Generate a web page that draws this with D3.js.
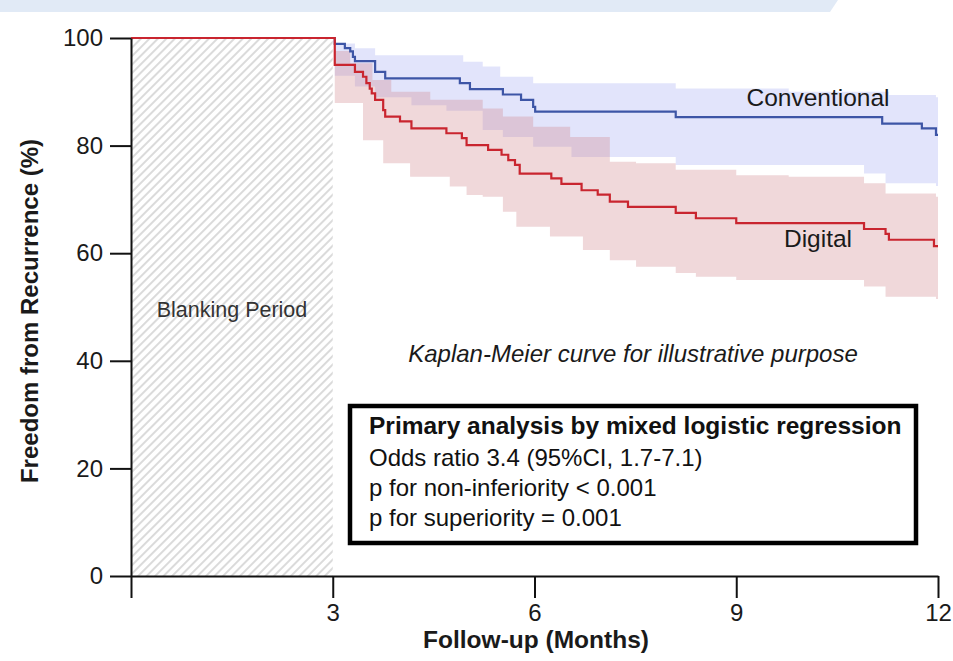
<!DOCTYPE html>
<html>
<head>
<meta charset="utf-8">
<script src="https://cdn.jsdelivr.net/npm/d3@7"></script>
<style>
  body { margin: 0; background: #fff; }
  svg { display: block; font-family: "Liberation Sans", Arial, sans-serif; }
</style>
</head>
<body>
<div id="chart"></div>
<script>
// ---- data ----
// step curves: [month, freedom from recurrence %]
var conventional = [[0,100],[3.03,98.9],[3.18,98.1],[3.26,97.5],[3.30,96.5],[3.33,95.7],[3.63,93.7],[3.78,92.5],
  [4.89,91.6],[5.04,90.5],[5.53,89.5],[5.80,88.5],[5.98,87.2],[6.01,86.3],[8.10,85.3],[11.17,84.1],[11.76,83.2],
  [11.97,82.0],[12,82.0]];

var digital = [[0,100],[3.03,95.0],[3.33,93.7],[3.45,92.8],[3.50,91.6],[3.55,90.6],[3.58,89.7],[3.63,88.5],
  [3.75,86.6],[3.78,85.4],[4.00,84.5],[4.17,83.2],[4.69,82.3],[4.92,81.4],[4.99,80.1],[5.31,79.2],[5.51,78.3],
  [5.61,77.3],[5.71,76.4],[5.78,74.8],[6.25,73.9],[6.40,72.9],[6.70,71.7],[6.94,70.9],[7.12,69.6],[7.39,68.6],
  [8.10,67.5],[8.40,66.5],[9.00,65.6],[10.90,64.5],[11.22,63.6],[11.27,62.5],[11.94,61.3],[12,61.3]];

// confidence bands: [month, lower, upper]
var conventionalCI = [[3.03,93.0,99.0],[3.33,91.0,98.1],[3.63,89.0,96.8],[4.17,87.5,96.8],[4.69,86.5,96.8],
  [4.94,86.5,95.6],[5.23,82.9,94.7],[5.49,82.9,92.8],[5.53,81.6,92.8],[5.98,79.8,91.6],[6.55,77.9,91.6],
  [8.10,76.4,90.6],[9.78,76.4,90.0],[10.90,74.8,90.0],[11.22,73.0,90.0],[11.27,73.0,89.4],[11.97,72.5,89.0],
  [12,72.5,89.0]];

var digitalCI = [[3.03,87.9,97.6],[3.26,87.9,95.3],[3.45,81.0,95.3],[3.59,81.0,92.2],[3.75,76.7,92.2],
  [3.87,76.7,90.0],[4.15,74.2,90.0],[4.45,74.2,88.5],[4.74,72.4,88.5],[4.99,70.8,88.5],[5.23,70.5,86.9],
  [5.53,67.7,85.4],[5.73,64.9,85.4],[5.98,64.9,83.5],[6.23,63.1,83.5],[6.53,63.1,81.6],[6.72,60.6,81.6],
  [7.12,58.7,77.0],[7.51,57.5,76.7],[8.10,56.3,75.5],[8.40,55.6,75.5],[9.00,55.0,74.5],[9.78,55.0,74.2],
  [10.90,53.8,73.0],[11.22,51.9,71.1],[11.97,51.5,70.5],[12,51.5,70.5]];

var xTicks = [0, 3, 6, 9, 12];
var yTicks = [0, 20, 40, 60, 80, 100];
var blankingEnd = 3;

var boxLines = [
  "Odds ratio 3.4 (95%CI, 1.7-7.1)",
  "p for non-inferiority < 0.001",
  "p for superiority = 0.001"
];

// ---- drawing ----
var width = 953, height = 661;

var svg = d3.select("#chart").append("svg")
  .attr("width", width)
  .attr("height", height);

// light banner strip at the very top
svg.append("polygon")
  .attr("points", "0,0 838,0 830,12 0,12")
  .attr("fill", "#e1eaf6");

var x = d3.scaleLinear().domain([0, 12]).range([131, 938]);
var y = d3.scaleLinear().domain([0, 100]).range([576, 38]);

// hatch for the blanking period
var defs = svg.append("defs");
defs.append("pattern")
  .attr("id", "hatch")
  .attr("patternUnits", "userSpaceOnUse")
  .attr("width", 6)
  .attr("height", 6)
  .attr("patternTransform", "rotate(45)")
  .append("line")
  .attr("x1", 1).attr("y1", 0)
  .attr("x2", 1).attr("y2", 6)
  .attr("stroke", "#c2c2c2")
  .attr("stroke-width", 1.2);

svg.append("rect")
  .attr("x", x(0))
  .attr("y", y(100))
  .attr("width", x(blankingEnd) - x(0))
  .attr("height", y(0) - y(100))
  .attr("fill", "url(#hatch)");

// bands
var band = d3.area()
  .curve(d3.curveStepAfter)
  .x(function(d) { return x(d[0]); })
  .y0(function(d) { return y(d[1]); })
  .y1(function(d) { return y(d[2]); });

svg.append("path")
  .datum(conventionalCI)
  .attr("d", band)
  .attr("fill", "rgb(150,158,240)")
  .attr("fill-opacity", 0.28);

svg.append("path")
  .datum(digitalCI)
  .attr("d", band)
  .attr("fill", "rgb(205,125,132)")
  .attr("fill-opacity", 0.3);

// KM lines
var km = d3.line()
  .curve(d3.curveStepAfter)
  .x(function(d) { return x(d[0]); })
  .y(function(d) { return y(d[1]); });

svg.append("path")
  .datum(conventional)
  .attr("d", km)
  .attr("fill", "none")
  .attr("stroke", "#3d55a6")
  .attr("stroke-width", 2.2);

svg.append("path")
  .datum(digital)
  .attr("d", km)
  .attr("fill", "none")
  .attr("stroke", "#c9252f")
  .attr("stroke-width", 2.2);

// axes
var yAxis = svg.append("g")
  .attr("transform", "translate(" + x(0) + ",0)")
  .call(d3.axisLeft(y).tickValues(yTicks).tickSize(21).tickSizeOuter(0).tickPadding(7));

var xAxis = svg.append("g")
  .attr("transform", "translate(0," + y(0) + ")")
  .call(d3.axisBottom(x).tickValues(xTicks).tickSize(22).tickSizeOuter(0).tickPadding(6)
    .tickFormat(function(d) { return d === 0 ? "" : d; }));

[yAxis, xAxis].forEach(function(g) {
  g.selectAll("path, line").attr("stroke", "#111").attr("stroke-width", 2);
  g.selectAll("text")
    .attr("fill", "#1a1a1a")
    .style("font-size", "24px")
    .style("font-family", "'Liberation Sans', Arial, sans-serif");
});
xAxis.selectAll("text").attr("dy", "0.71em");

// axis titles
svg.append("text")
  .attr("transform", "translate(38,311) rotate(-90)")
  .attr("text-anchor", "middle")
  .style("font-size", "24px")
  .style("font-weight", "bold")
  .attr("fill", "#1a1a1a")
  .text("Freedom from Recurrence (%)");

svg.append("text")
  .attr("x", 536)
  .attr("y", 648)
  .attr("text-anchor", "middle")
  .style("font-size", "24.5px")
  .style("font-weight", "bold")
  .attr("fill", "#1a1a1a")
  .text("Follow-up (Months)");

// labels
svg.append("text")
  .attr("x", 232).attr("y", 317)
  .attr("text-anchor", "middle")
  .style("font-size", "21.5px")
  .attr("fill", "#333")
  .text("Blanking Period");

svg.append("text")
  .attr("x", 818).attr("y", 106)
  .attr("text-anchor", "middle")
  .style("font-size", "24.5px")
  .attr("fill", "#1a1a1a")
  .text("Conventional");

svg.append("text")
  .attr("x", 818).attr("y", 247)
  .attr("text-anchor", "middle")
  .style("font-size", "24.5px")
  .attr("fill", "#1a1a1a")
  .text("Digital");

svg.append("text")
  .attr("x", 633).attr("y", 362)
  .attr("text-anchor", "middle")
  .style("font-size", "24px")
  .style("font-style", "italic")
  .attr("fill", "#1a1a1a")
  .text("Kaplan-Meier curve for illustrative purpose");

// result box
svg.append("rect")
  .attr("x", 350).attr("y", 406)
  .attr("width", 566).attr("height", 137)
  .attr("fill", "#fff")
  .attr("stroke", "#000")
  .attr("stroke-width", 4.5);

svg.append("text")
  .attr("x", 369).attr("y", 434)
  .style("font-size", "24.5px")
  .style("font-weight", "bold")
  .attr("fill", "#111")
  .text("Primary analysis by mixed logistic regression");

svg.selectAll(".boxline")
  .data(boxLines)
  .enter().append("text")
  .attr("class", "boxline")
  .attr("x", 369)
  .attr("y", function(d, i) { return 466 + i * 30; })
  .style("font-size", "24px")
  .attr("fill", "#111")
  .text(function(d) { return d; });
</script>
</body>
</html>
